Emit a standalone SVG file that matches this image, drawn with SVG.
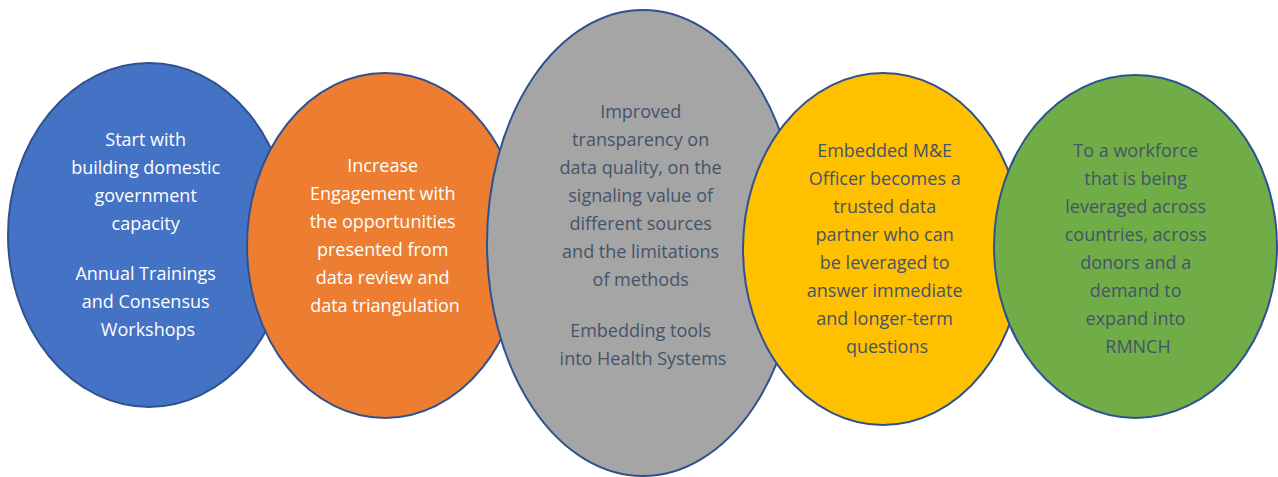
<svg xmlns="http://www.w3.org/2000/svg" width="1278" height="477" viewBox="0 0 1278 477">
  <style>
    .stage { stroke: #2F528F; stroke-width: 2; }
    .label { font-family: "Open Sans", "Liberation Sans", sans-serif; font-size: 18px; text-anchor: middle; }
    .light { fill: #FFFFFF; }
    .dark { fill: #44546A; }
  </style>
  <rect width="1278" height="477" fill="#FFFFFF"/>

  <g id="stage-capacity">
    <ellipse class="stage" cx="149" cy="235" rx="141" ry="172" fill="#4472C4"/>
    <text class="label light">
      <tspan x="148" y="146">Start with</tspan>
      <tspan x="148" y="174">building domestic</tspan>
      <tspan x="148" y="202">government</tspan>
      <tspan x="148" y="230">capacity</tspan>
      <tspan x="148" y="280">Annual Trainings</tspan>
      <tspan x="148" y="308">and Consensus</tspan>
      <tspan x="148" y="336">Workshops</tspan>
    </text>
  </g>

  <g id="stage-engagement">
    <ellipse class="stage" cx="385" cy="245.5" rx="138" ry="172.5" fill="#ED7D31"/>
    <text class="label light">
      <tspan x="385" y="172">Increase</tspan>
      <tspan x="385" y="200">Engagement with</tspan>
      <tspan x="385" y="228">the opportunities</tspan>
      <tspan x="385" y="256">presented from</tspan>
      <tspan x="385" y="284">data review and</tspan>
      <tspan x="385" y="312">data triangulation</tspan>
    </text>
  </g>

  <g id="stage-transparency">
    <ellipse class="stage" cx="643" cy="243" rx="156" ry="233" fill="#A5A5A5"/>
    <text class="label dark">
      <tspan x="643" y="118">Improved</tspan>
      <tspan x="643" y="146">transparency on</tspan>
      <tspan x="643" y="174">data quality, on the</tspan>
      <tspan x="643" y="202">signaling value of</tspan>
      <tspan x="643" y="230">different sources</tspan>
      <tspan x="643" y="258">and the limitations</tspan>
      <tspan x="643" y="286">of methods</tspan>
      <tspan x="643" y="337">Embedding tools</tspan>
      <tspan x="643" y="365">into Health Systems</tspan>
    </text>
  </g>

  <g id="stage-officer">
    <ellipse class="stage" cx="883" cy="249" rx="140" ry="176" fill="#FFC000"/>
    <text class="label dark">
      <tspan x="887" y="157">Embedded M&amp;E</tspan>
      <tspan x="887" y="185">Officer becomes a</tspan>
      <tspan x="887" y="213">trusted data</tspan>
      <tspan x="887" y="241">partner who can</tspan>
      <tspan x="887" y="269">be leveraged to</tspan>
      <tspan x="887" y="297">answer immediate</tspan>
      <tspan x="887" y="325">and longer-term</tspan>
      <tspan x="887" y="353">questions</tspan>
    </text>
  </g>

  <g id="stage-workforce">
    <ellipse class="stage" cx="1135.5" cy="246.5" rx="141.5" ry="171.5" fill="#70AD47"/>
    <text class="label dark">
      <tspan x="1138" y="157">To a workforce</tspan>
      <tspan x="1138" y="185">that is being</tspan>
      <tspan x="1138" y="213">leveraged across</tspan>
      <tspan x="1138" y="241">countries, across</tspan>
      <tspan x="1138" y="269">donors and a</tspan>
      <tspan x="1138" y="297">demand to</tspan>
      <tspan x="1138" y="325">expand into</tspan>
      <tspan x="1138" y="353">RMNCH</tspan>
    </text>
  </g>

  <g id="connectors"></g>
</svg>
